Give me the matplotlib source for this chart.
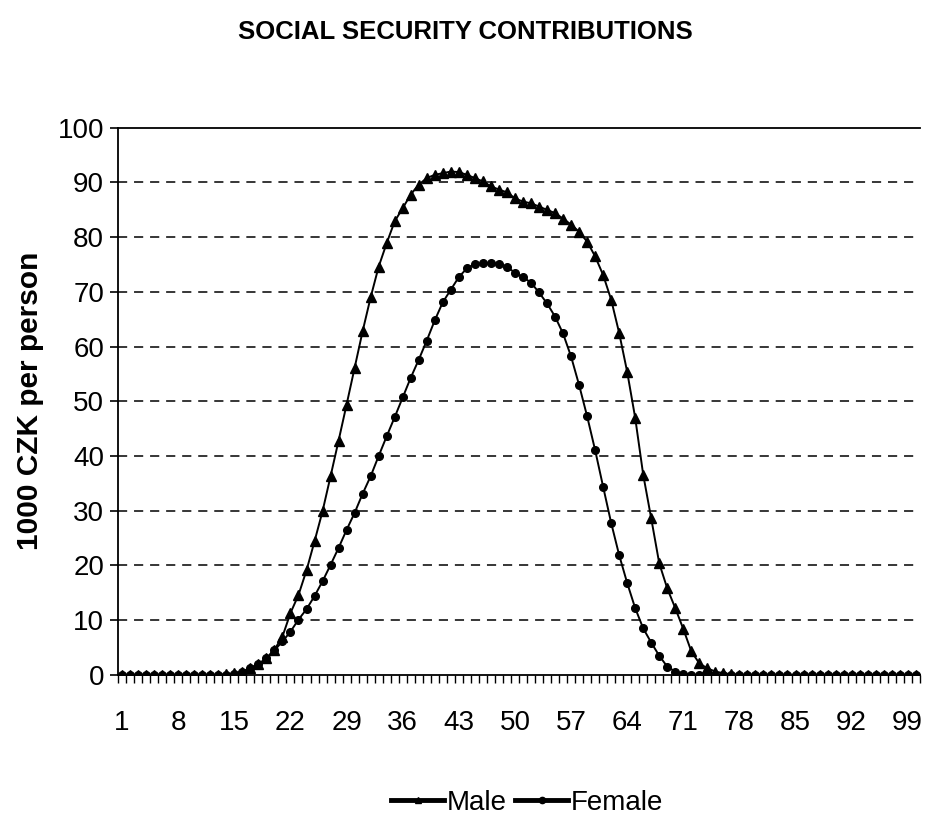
import matplotlib.pyplot as plt
import numpy as np

plt.rcParams['font.family'] = ['Liberation Sans', 'DejaVu Sans']

# Contributions per person by age (thousand CZK)
ages = list(range(1, 101))
male = ([0.0] * 13 +
        [0.1, 0.3, 0.6, 1.2, 1.9, 3.0, 4.6, 7.0, 11.3, 14.6, 19.1, 24.4, 29.9, 36.3,
         42.8, 49.4, 56.1, 62.8, 69.0, 74.6, 78.9, 82.9, 85.3, 87.8, 89.6, 90.8, 91.4,
         91.7, 92.0, 91.9, 91.4, 90.8, 90.2, 89.3, 88.7, 88.2, 87.1, 86.5, 86.2, 85.6,
         85.0, 84.4, 83.4, 82.3, 81.0, 79.2, 76.5, 73.1, 68.6, 62.5, 55.4, 47.0, 36.6,
         28.6, 20.4, 15.8, 12.2, 8.4, 4.3, 2.1, 1.2, 0.6, 0.3, 0.1] +
        [0.0] * 23)
female = ([0.0] * 14 +
          [0.2, 0.5, 1.2, 2.0, 3.0, 4.5, 6.1, 7.9, 10.1, 12.0, 14.4, 17.1, 20.1, 23.2,
           26.5, 29.6, 33.1, 36.3, 40.0, 43.6, 47.1, 50.7, 54.3, 57.6, 61.1, 64.8, 68.1,
           70.4, 72.7, 74.3, 75.1, 75.2, 75.2, 75.1, 74.6, 73.5, 72.7, 71.7, 69.9, 67.9,
           65.5, 62.4, 58.2, 53.0, 47.3, 41.1, 34.4, 27.8, 21.9, 16.8, 12.2, 8.5, 5.9,
           3.5, 1.5, 0.6, 0.2] +
          [0.0] * 29)

age_labels = list(range(1, 101, 7))
y_ticks = list(range(0, 101, 10))

fig = plt.figure(figsize=(9.3, 8.19), dpi=100)
ax = fig.add_axes([0.127, 0.176, 0.862, 0.668])

for y in y_ticks[1:-1]:
    ax.axhline(y, color='black', lw=1.1, dashes=(6, 4.5), zorder=1)

ax.plot(ages, male, color='black', lw=1.4, marker='^', ms=6.5, label='Male', zorder=3)
ax.plot(ages, female, color='black', lw=1.4, marker='o', ms=5.5, label='Female', zorder=3)

ax.set_xlim(0.5, 100.5)
ax.set_ylim(0, 100)
ax.set_yticks(y_ticks)
ax.tick_params(axis='y', labelsize=20, length=6, width=1.2, direction='out', pad=4)

ax.set_xticks(age_labels)
ax.set_xticks(np.arange(0.5, 101, 1), minor=True)
ax.tick_params(axis='x', which='major', labelsize=20, length=0, pad=25)
ax.tick_params(axis='x', which='minor', length=6, width=1, direction='out')

ax.spines['right'].set_visible(False)
for side in ['left', 'bottom', 'top']:
    ax.spines[side].set_linewidth(1.3)

ax.set_ylabel('1000 CZK per person', fontsize=21.5, fontweight='bold', labelpad=10)
fig.suptitle('SOCIAL SECURITY CONTRIBUTIONS', x=0.5, y=0.975, fontsize=18.5,
             fontweight='bold')

leg_handles = [
    plt.Line2D([], [], color='black', lw=3.5, marker='^', ms=5),
    plt.Line2D([], [], color='black', lw=3.5, marker='o', ms=4.5),
]
fig.legend(leg_handles, ['Male', 'Female'], loc='center', bbox_to_anchor=(0.567, 0.02),
           ncol=2, frameon=False, fontsize=20, handlelength=1.9, handletextpad=0.1,
           columnspacing=0.3)

fig.savefig('out.png', dpi=100)
